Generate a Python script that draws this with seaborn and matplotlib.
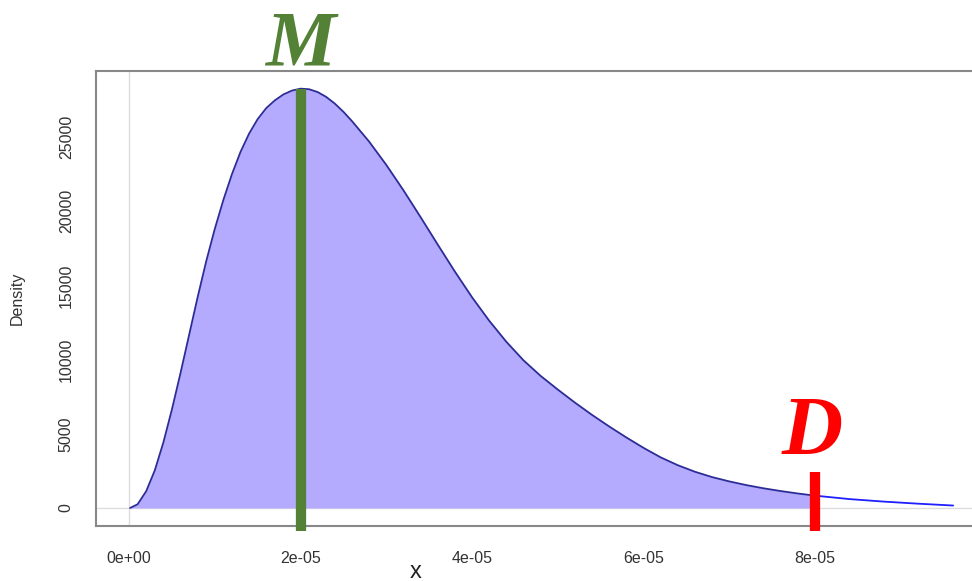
import numpy as np
import pandas as pd
import matplotlib
matplotlib.use("Agg")
import matplotlib.pyplot as plt
import matplotlib.transforms as mtransforms
import seaborn as sns

# density curve (x in units of 1e-05)
x_e5 = [0.012, 0.1, 0.2, 0.3, 0.4, 0.5, 0.6, 0.7, 0.8, 0.9,
        1.0, 1.1, 1.2, 1.3, 1.4, 1.5, 1.6, 1.7, 1.8, 1.9,
        2.0, 2.1, 2.2, 2.3, 2.4, 2.5, 2.6, 2.8, 3.0, 3.2,
        3.4, 3.6, 3.8, 4.0, 4.2, 4.4, 4.6, 4.8, 5.0, 5.2,
        5.4, 5.6, 5.8, 6.0, 6.2, 6.4, 6.6, 6.8, 7.0, 7.2,
        7.4, 7.6, 7.8, 8.0, 8.4, 8.8, 9.2, 9.61]
density = [0, 250, 1130, 2530, 4410, 6640, 9090, 11650, 14210, 16630,
           18810, 20760, 22500, 24000, 25230, 26210, 26950, 27470, 27870, 28130,
           28260, 28220, 28030, 27700, 27250, 26700, 26070, 24690, 23120, 21410,
           19600, 17750, 15930, 14200, 12620, 11200, 9950, 8900, 7980, 7100,
           6270, 5490, 4750, 4050, 3410, 2880, 2440, 2080, 1790, 1540,
           1325, 1140, 975, 830, 600, 430, 290, 165]

x_ticks = [0, 2e-05, 4e-05, 6e-05, 8e-05]
x_tick_labels = ["0e+00", "2e-05", "4e-05", "6e-05", "8e-05"]
y_ticks = [0, 5000, 10000, 15000, 20000, 25000]

mode_x = 2e-05      # M
mode_top = 28260
cut_x = 8e-05       # D
cut_top = 2430

df = pd.DataFrame({"x": np.array(x_e5) * 1e-05, "density": density})
inside = df[df["x"] <= cut_x]
outside = df[df["x"] >= cut_x]

sns.set_style("white")
plt.rcParams["font.family"] = ["Liberation Sans", "DejaVu Sans"]

fig = plt.figure(figsize=(9.72, 5.81), dpi=100)
ax = fig.add_axes([0.0988, 0.0947, 0.9012, 0.7831])

ax.axvline(0, color="#dddddd", lw=1, zorder=0)
ax.axhline(0, color="#dddddd", lw=1, zorder=0)

ax.fill_between(inside["x"], 0, inside["density"], color="#b4abff", lw=0, zorder=1)
sns.lineplot(data=inside, x="x", y="density", ax=ax, color="#2c2c96", lw=1.3, zorder=2)
sns.lineplot(data=outside, x="x", y="density", ax=ax, color="#1f1fff", lw=1.3, zorder=2)

ax.plot([mode_x, mode_x], [mode_top, -1550], color="#538135", lw=7.4,
        solid_capstyle="butt", clip_on=False, zorder=3)
ax.plot([cut_x, cut_x], [cut_top, -1550], color="#ff0000", lw=7.4,
        solid_capstyle="butt", clip_on=False, zorder=3)

trans = mtransforms.blended_transform_factory(ax.transData, ax.transAxes)
ax.text(mode_x, 1.0135, "M", transform=trans, ha="center", va="baseline",
        fontsize=57, fontweight="bold", fontstyle="italic",
        family="Liberation Serif", color="#538135")
ax.text(cut_x - 0.03e-05, 0.156, "D", transform=trans, ha="center", va="baseline",
        fontsize=61, fontweight="bold", fontstyle="italic",
        family="Liberation Serif", color="#ff0000")

ax.set_xlim(-0.385e-05, 9.83e-05)
ax.set_ylim(-1213, 29450)
ax.set_xticks(x_ticks)
ax.set_xticklabels(x_tick_labels)
ax.set_yticks(y_ticks)
ax.set_yticklabels([str(v) for v in y_ticks], rotation=90, va="center")
ax.tick_params(axis="both", direction="out", length=8, width=1.2,
               color="#777777", labelsize=11.5, labelcolor="#333333")
ax.tick_params(axis="x", pad=10)
ax.tick_params(axis="y", pad=8)

for side in ["left", "top", "bottom"]:
    ax.spines[side].set_color("#888888")
    ax.spines[side].set_linewidth(1.5)
ax.spines["right"].set_visible(False)

ax.set_xlabel("x", fontsize=17, color="#222222")
ax.xaxis.set_label_coords(0.365, -0.101)
ax.xaxis.label.set_verticalalignment("center")
ax.set_ylabel("Density", fontsize=11.5, color="#333333")
ax.yaxis.set_label_coords(-0.081, 0.5)

fig.savefig("out.png", dpi=100)
